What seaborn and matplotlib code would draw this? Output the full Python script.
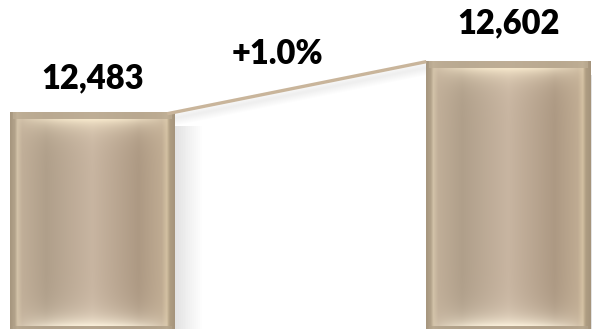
import numpy as np
import pandas as pd
import matplotlib
matplotlib.use("Agg")
import matplotlib.pyplot as plt
from matplotlib.colors import to_rgb
import seaborn as sns

# ---- data ----
periods = ["Previous", "Current"]
values = [12483, 12602]
value_labels = ["12,483", "12,602"]
change_label = "+1.0%"

sns.set_theme(style="white")
plt.rcParams["font.family"] = ["Lato", "DejaVu Sans"]

df = pd.DataFrame({"period": periods, "value": values})

W, H = 592, 329
fig = plt.figure(figsize=(W / 100, H / 100), dpi=100)
ax = fig.add_axes([0, 0, 1, 1])
sns.barplot(data=df, x="period", y="value", width=0.395, color="#c4b29c",
            ax=ax, zorder=2, linewidth=0)
ax.set_xlim(-0.2225, 1.2010)
ylim = (11978, 12746)
ax.set_ylim(*ylim)
ax.axis("off")
fig.patch.set_facecolor("white")


def lerp_profile(t, stops):
    pos = [s[0] for s in stops]
    cols = np.array([to_rgb(s[1]) for s in stops])
    out = np.zeros((len(t), 3))
    for c in range(3):
        out[:, c] = np.interp(t, pos, cols[:, c])
    return out


def bar_texture(h, w):
    t = (np.arange(w) + 0.5) / w
    prof = lerp_profile(t, [
        (0.00, "#a6967e"), (0.03, "#b3a38b"), (0.045, "#d2c2a8"),
        (0.075, "#c0ae98"), (0.22, "#b09f8a"), (0.50, "#c8b5a1"),
        (0.78, "#ad9983"), (0.92, "#bfab92"), (0.95, "#d3c0a2"),
        (0.97, "#ae9d82"), (1.00, "#a4947c"),
    ])
    img = np.repeat(prof[None, :, :], h, axis=0)
    yy = np.arange(h)[:, None]
    xx = np.arange(w)[None, :]
    rim = 7
    inside = ((xx > 2) & (xx < w - 3))
    top_rim = np.array(to_rgb("#bcac93"))
    a = (yy < rim) * 0.8 * inside
    img = img * (1 - a[..., None]) + top_rim * a[..., None]
    bot_rim = np.array(to_rgb("#b2a28a"))
    a = (yy > h - 4) * 0.8 * inside
    img = img * (1 - a[..., None]) + bot_rim * a[..., None]
    fx = np.clip(np.sin(np.pi * np.clip((xx - rim) / (w - 2 * rim), 0, 1)), 0, 1) ** 0.5
    cream = np.array(to_rgb("#fbedd0"))
    d = yy - rim
    a = np.where(d >= 0, np.exp(-d / 10.0), 0) * fx * 0.9
    img = img * (1 - a[..., None]) + cream * a[..., None]
    cream2 = np.array(to_rgb("#fff5e0"))
    d = (h - 4) - yy
    a = np.where(d >= 0, np.exp(-d / 10.0), 0) * fx * 0.9
    img = img * (1 - a[..., None]) + cream2 * a[..., None]
    return np.clip(img, 0, 1)


fig.canvas.draw()
patches = list(ax.patches)
edges = []
for p, v in zip(patches, values):
    x0 = p.get_x()
    x1 = x0 + p.get_width()
    d0 = ax.transData.transform((x0, ylim[0]))
    d1 = ax.transData.transform((x1, v))
    w_px = max(int(round(d1[0] - d0[0])), 4)
    h_px = max(int(round(d1[1] - d0[1])), 4)
    img = bar_texture(h_px, w_px)
    ax.imshow(img, extent=[x0, x1, ylim[0], v], aspect="auto",
              interpolation="bilinear", zorder=3)
    p.set_visible(False)
    edges.append((x0, x1))

# soft shadow to the right of bars
for (x0, x1), v in zip(edges, values):
    n = 14
    for i in range(n):
        dx = (x1 - x0) * 0.012 * (i + 1)
        ax.fill_between([x1, x1 + dx], ylim[0], v - 30, color="#888888",
                        alpha=0.014, lw=0, zorder=1)

# connector line with soft shadow
lx = [edges[0][1] - 0.018, edges[1][0]]
ly = [values[0] - 2.5, values[1]]
for k in range(8):
    off = 6 + k * 2.2
    ax.plot(lx, [ly[0] - off, ly[1] - off], color="#9a9a9a", lw=6,
            alpha=0.02, solid_capstyle="butt", zorder=1)
ax.plot(lx, ly, color="#c9b59b", lw=2.4, solid_capstyle="butt", zorder=4)

# labels
offsets_px = [34, 38.5]
for (x0, x1), v, lab, off in zip(edges, values, value_labels, offsets_px):
    ax.annotate(lab, xy=((x0 + x1) / 2, v), xytext=(0, off * 0.72),
                textcoords="offset points", ha="center", va="center",
                fontsize=23.5, fontweight="heavy", color="#000000", zorder=5)

mid_x = (lx[0] + lx[1]) / 2
mid_y = (ly[0] + ly[1]) / 2
ax.annotate(change_label, xy=(mid_x, mid_y), xytext=(-19 * 0.72, 34 * 0.72),
            textcoords="offset points", ha="center", va="center",
            fontsize=23.5, fontweight="heavy", color="#000000", zorder=5)

ax.set_xlim(-0.2225, 1.2010)
ax.set_ylim(*ylim)
fig.savefig("out.png", dpi=100, facecolor="white")
